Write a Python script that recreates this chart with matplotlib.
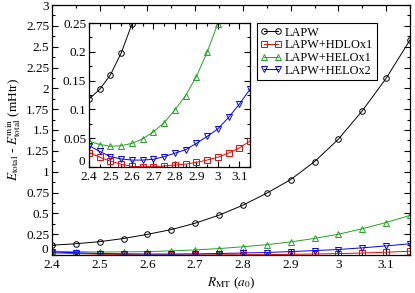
import matplotlib
matplotlib.use("Agg")
import matplotlib.pyplot as plt
import matplotlib.transforms as mtransforms
from matplotlib.ticker import MultipleLocator, FormatStrFormatter, FuncFormatter

# R_MT grid (a0)
r_mt = [2.40, 2.45, 2.50, 2.55, 2.60, 2.65, 2.70, 2.75,
        2.80, 2.85, 2.90, 2.95, 3.00, 3.05, 3.10, 3.15]

# E_total - E_total^min (mHtr)
e_lapw = [0.118, 0.135, 0.160, 0.198, 0.248, 0.305, 0.382, 0.478,
          0.598, 0.742, 0.905, 1.12, 1.39, 1.73, 2.12, 2.58]
e_hdlo1 = [0.025, 0.017, 0.010, 0.005, 0.001, 0.0005, 0.0005, 0.0017,
           0.0035, 0.005, 0.008, 0.012, 0.017, 0.024, 0.033, 0.045]
e_helo1 = [0.045, 0.039, 0.036, 0.037, 0.041, 0.049, 0.061, 0.077,
           0.099, 0.124, 0.157, 0.199, 0.249, 0.315, 0.390, 0.475]
e_helo2 = [0.037, 0.027, 0.018, 0.014, 0.012, 0.012, 0.0134, 0.018,
           0.024, 0.030, 0.041, 0.053, 0.066, 0.086, 0.109, 0.135]

labels = ["LAPW", "LAPW+HDLOx1", "LAPW+HELOx1", "LAPW+HELOx2"]

plt.rcParams['font.family'] = ['Liberation Serif', 'DejaVu Serif']
plt.rcParams['mathtext.fontset'] = 'stix'
plt.rcParams['font.size'] = 9.5

series = [
    (e_lapw, 'black', 'o'),
    (e_hdlo1, 'red', 's'),
    (e_helo1, '#1fa51f', '^'),
    (e_helo2, 'blue', 'v'),
]


def y_fmt(v, pos):
    # zero is written separately, a little higher (see below)
    return '' if abs(v) < 1e-9 else '%g' % v


def style_axes(ax):
    ax.tick_params(which='both', direction='in', top=True, right=True,
                   width=0.8, pad=2, labelsize=9.5)
    ax.tick_params(axis='x', pad=3)
    ax.tick_params(which='major', length=4)
    ax.tick_params(which='minor', length=2)
    for sp in ax.spines.values():
        sp.set_linewidth(0.9)
    ax.xaxis.set_major_formatter(FormatStrFormatter('%g'))
    ax.yaxis.set_major_formatter(FuncFormatter(y_fmt))
    tr = mtransforms.offset_copy(ax.transAxes, fig=fig, x=-2.5, y=-0.5,
                                 units='points')
    ax.text(0, 0, '0', transform=tr, ha='right', va='bottom', fontsize=9.5)


fig = plt.figure(figsize=(4.15, 2.93), dpi=100)

# main panel
ax = fig.add_axes([52 / 415, 1 - 255 / 293, 358 / 415, 250 / 293])
for (ys, col, mk), lab in zip(series, labels):
    ax.plot(r_mt, ys, color=col, marker=mk, markersize=4, mfc='none',
            mec=col, mew=0.7, lw=0.7, label=lab)
style_axes(ax)
ax.set_xlim(2.4, 3.15)
ax.set_ylim(0, 3)
ax.xaxis.set_major_locator(MultipleLocator(0.1))
ax.xaxis.set_minor_locator(MultipleLocator(0.05))
ax.yaxis.set_major_locator(MultipleLocator(0.25))
ax.yaxis.set_minor_locator(MultipleLocator(0.125))
ax.set_xlabel(r'$R_{\rm MT}$ ($a_0$)', labelpad=3)
ax.set_ylabel(r'$E_{\rm total}$ - $E_{\rm total}^{\rm min}$ (mHtr)', labelpad=2)

leg = ax.legend(loc='upper left', bbox_to_anchor=(257 / 415, 1 - 23 / 293),
                bbox_transform=fig.transFigure, borderaxespad=0,
                numpoints=2, handlelength=1.7, handletextpad=0.3,
                labelspacing=0.05, borderpad=0.3, fancybox=False,
                edgecolor='black', framealpha=1, fontsize=8.8)
leg.get_frame().set_linewidth(0.8)

# inset
axi = fig.add_axes([89 / 415, 1 - 167 / 293, 161 / 415, 144 / 293])
for ys, col, mk in series:
    axi.plot(r_mt, ys, color=col, marker=mk, markersize=4, mfc='none',
             mec=col, mew=0.7, lw=0.7)
style_axes(axi)
axi.set_xlim(2.4, 3.15)
axi.set_ylim(0, 0.25)
axi.xaxis.set_major_locator(MultipleLocator(0.1))
axi.xaxis.set_minor_locator(MultipleLocator(0.05))
axi.yaxis.set_major_locator(MultipleLocator(0.05))
axi.yaxis.set_minor_locator(MultipleLocator(0.025))

fig.savefig('out.png', dpi=100)
